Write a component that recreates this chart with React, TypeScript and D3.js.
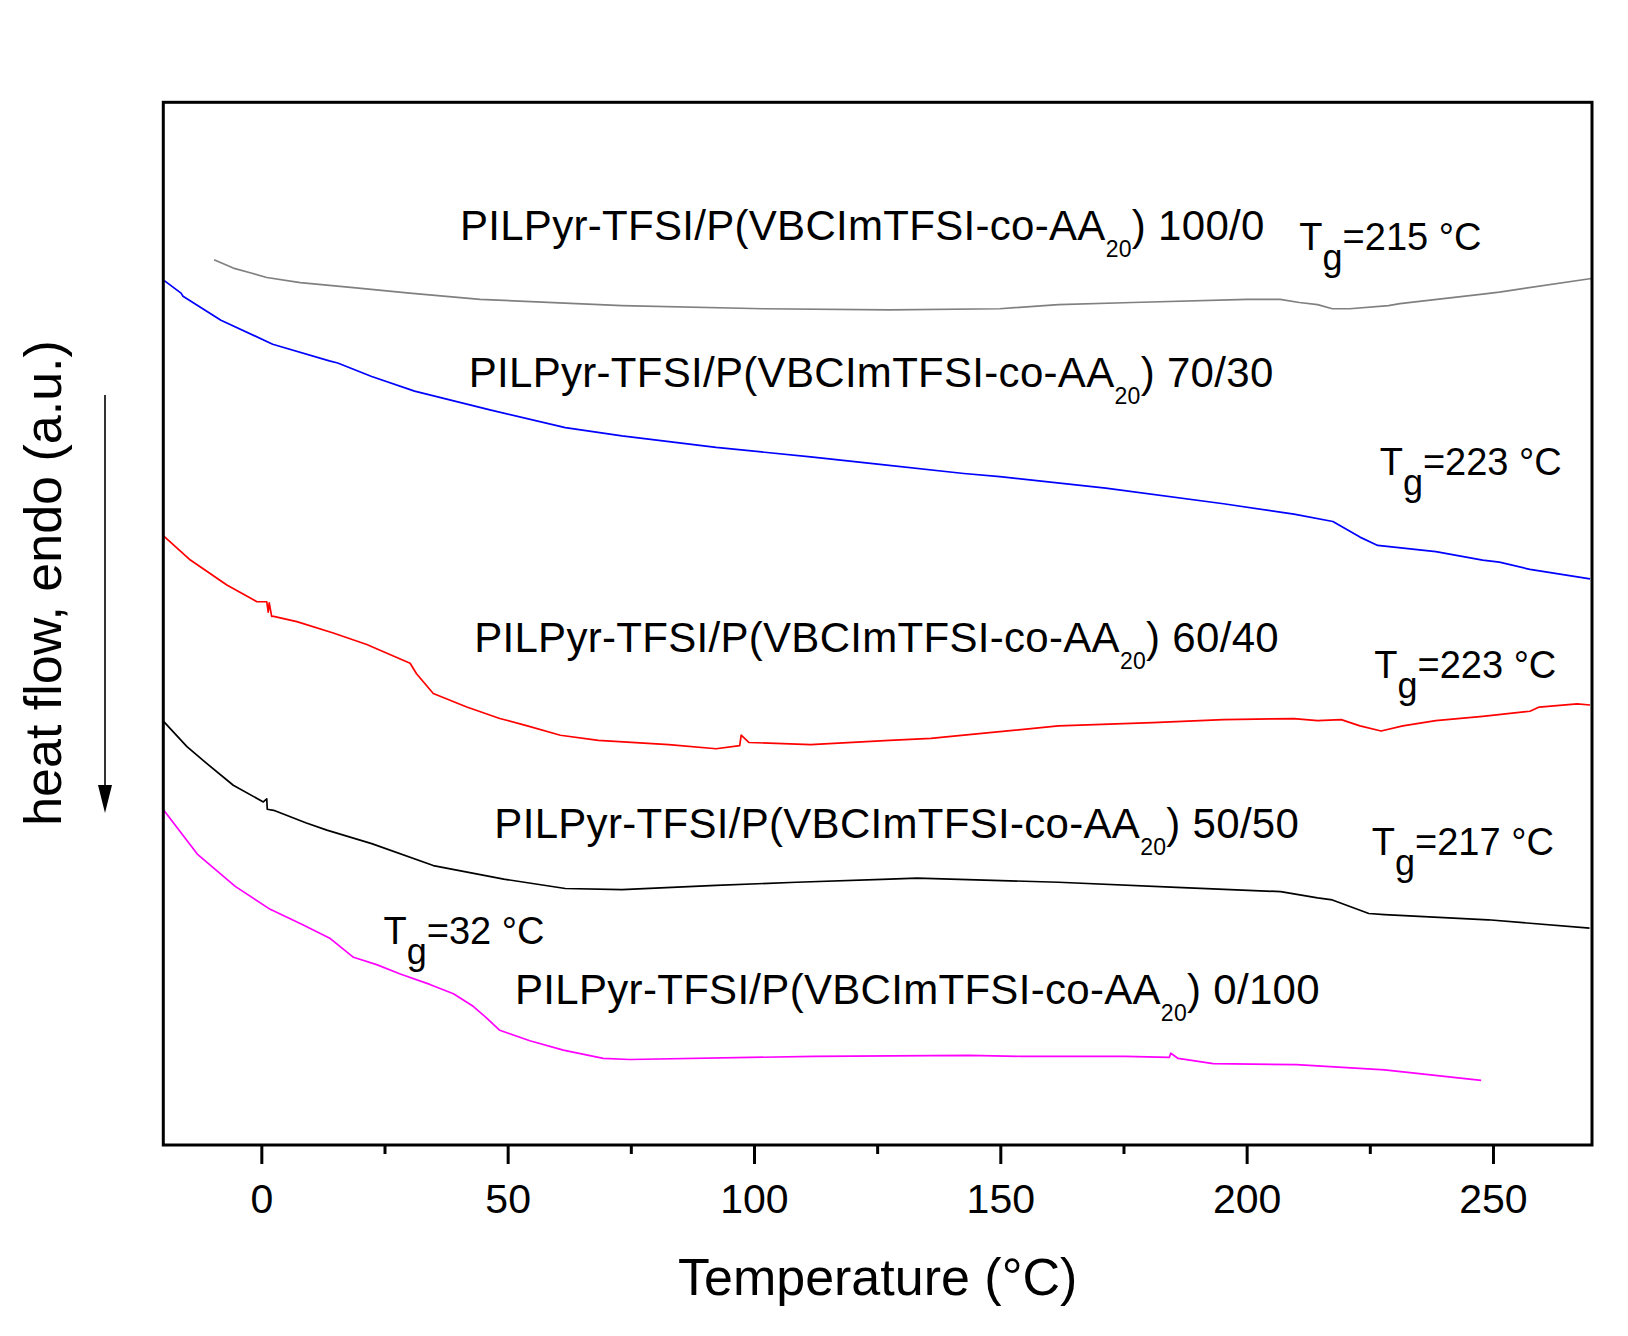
import React, { useEffect, useRef } from 'react';
import * as d3 from 'd3';

// DSC traces, heat flow in a.u. (offset per sample), temperature in °C
const trace100_0: [number, number][] = [
  [-9.7, 84.9], [-5.8, 84.1], [-2.0, 83.6], [1.0, 83.2], [7.8, 82.7], [19.1, 82.2], [30.0, 81.7],
  [44.3, 81.1], [73.1, 80.5], [101.8, 80.2], [127.4, 80.1], [149.8, 80.2], [161.7, 80.6],
  [176.7, 80.8], [200.0, 81.1], [206.7, 81.1], [210.6, 80.8], [214.3, 80.6], [217.3, 80.2],
  [220.8, 80.2], [228.7, 80.5], [231.0, 80.7], [247.8, 81.6], [251.2, 81.8], [269.9, 83.1],
];

const trace70_30: [number, number][] = [
  [-19.8, 82.9], [-16.4, 81.7], [-16.0, 81.4], [-8.3, 79.1], [2.2, 76.8], [13.7, 75.2],
  [15.4, 75.0], [22.3, 73.7], [31.0, 72.3], [46.3, 70.5], [61.6, 68.8], [73.1, 68.0],
  [92.2, 66.9], [111.4, 66.0], [125.0, 65.3], [142.5, 64.4], [149.8, 64.1], [171.3, 63.0],
  [195.2, 61.5], [209.5, 60.5], [217.4, 59.8], [222.9, 58.3], [226.5, 57.5], [238.3, 56.9],
  [247.8, 56.1], [251.2, 55.9], [257.4, 55.2], [269.6, 54.3],
];

const trace60_40: [number, number][] = [
  [-19.9, 58.4], [-14.5, 56.1], [-7.1, 53.7], [-1.7, 52.3], [-1.0, 52.1], [1.0, 52.1],
  [1.3, 51.1], [1.5, 52.0], [2.0, 50.7], [2.4, 50.7], [7.1, 50.2], [14.5, 49.1],
  [21.3, 48.0], [30.1, 46.2], [31.4, 45.2], [34.8, 43.3], [41.6, 42.0], [48.3, 40.9],
  [53.9, 40.2], [60.6, 39.3], [68.3, 38.8], [82.6, 38.4], [92.2, 38.0], [97.0, 38.3],
  [97.3, 39.3], [98.9, 38.6], [111.4, 38.4], [127.4, 38.8], [135.8, 39.0], [142.5, 39.3],
  [161.7, 40.2], [180.8, 40.5], [195.2, 40.8], [209.5, 40.9], [214.3, 40.7], [219.1, 40.8],
  [222.9, 40.2], [227.2, 39.7], [231.6, 40.2], [238.3, 40.7], [247.8, 41.1], [257.4, 41.6],
  [259.3, 42.0], [267.0, 42.3], [269.6, 42.2],
];

const trace50_50: [number, number][] = [
  [-19.9, 40.6], [-15.2, 38.2], [-11.2, 36.6], [-5.8, 34.5], [0.3, 32.9], [1.0, 33.2],
  [1.1, 32.2], [2.4, 32.1], [8.9, 30.9], [13.2, 30.2], [22.3, 28.9], [34.8, 26.8],
  [49.1, 25.5], [61.6, 24.6], [73.1, 24.5], [92.2, 24.9], [108.5, 25.2], [127.4, 25.5],
  [133.0, 25.6], [161.7, 25.2], [185.7, 24.7], [206.8, 24.3], [214.3, 23.7], [217.3, 23.5],
  [224.7, 22.2], [227.9, 22.1], [248.9, 21.6], [269.5, 20.8],
];

const trace0_100: [number, number][] = [
  [-19.9, 32.1], [-13.1, 27.9], [-5.4, 24.8], [1.7, 22.6], [8.0, 21.2], [13.9, 19.8],
  [18.6, 18.0], [23.3, 17.3], [28.1, 16.4], [34.1, 15.4], [38.9, 14.5], [42.9, 13.3],
  [45.6, 12.2], [48.3, 11.0], [54.4, 10.0], [61.2, 9.1], [69.3, 8.3], [74.7, 8.2],
  [112.1, 8.5], [143.6, 8.6], [154.2, 8.5], [175.2, 8.5], [184.2, 8.4], [184.5, 8.8],
  [186.0, 8.3], [193.1, 7.8], [210.0, 7.7], [227.9, 7.2], [247.5, 6.2],
];

const ratios = ['100/0', '70/30', '60/40', '50/50', '0/100'];
const traces = [trace100_0, trace70_30, trace60_40, trace50_50, trace0_100];
const colors = ['#808080', '#0000ff', '#ff0000', '#000000', '#ff00ff'];

// where each name and Tg note sits, in data units
const nameAt: [number, number][] = [[40.2, 86.8], [42.0, 72.7], [43.1, 47.3], [47.2, 29.4], [51.4, 13.5]];
const tgValues = [215, 223, 223, 217, 32];
const tgAt: [number, number][] = [[210.6, 85.8], [226.9, 64.3], [225.8, 44.8], [225.3, 27.8], [24.7, 19.3]];

const majorTicks = [0, 50, 100, 150, 200, 250];
const minorTicks = [25, 75, 125, 175, 225];

const W = 1628;
const H = 1336;
const FONT = '"Liberation Sans", Arial, Helvetica, sans-serif';

const DscChart: React.FC = () => {
  const svgRef = useRef<SVGSVGElement>(null);

  useEffect(() => {
    if (!svgRef.current) return;
    const svg = d3.select(svgRef.current);
    svg.selectAll('*').remove();

    const left = 163.3, right = 1592, top = 102.3, bottom = 1145;

    const x = d3.scaleLinear().domain([-20, 270]).range([left, right]);
    const y = d3.scaleLinear().domain([0, 100]).range([bottom, top]);

    const line = d3.line<[number, number]>()
      .x((d) => x(d[0]))
      .y((d) => y(d[1]));

    traces.forEach((data, i) => {
      svg.append('path')
        .datum(data)
        .attr('d', line)
        .attr('fill', 'none')
        .attr('stroke', colors[i])
        .attr('stroke-width', 1.7)
        .attr('stroke-linejoin', 'round');
    });

    // ticks
    majorTicks.forEach((t) => {
      svg.append('line')
        .attr('x1', x(t)).attr('x2', x(t))
        .attr('y1', bottom).attr('y2', bottom + 19)
        .attr('stroke', '#000').attr('stroke-width', 3);
      svg.append('text')
        .attr('x', x(t)).attr('y', 1213)
        .attr('text-anchor', 'middle')
        .attr('font-family', FONT)
        .attr('font-size', 41)
        .text(t);
    });
    minorTicks.forEach((t) => {
      svg.append('line')
        .attr('x1', x(t)).attr('x2', x(t))
        .attr('y1', bottom).attr('y2', bottom + 9)
        .attr('stroke', '#000').attr('stroke-width', 3);
    });

    // frame
    svg.append('rect')
      .attr('x', left).attr('y', top)
      .attr('width', right - left).attr('height', bottom - top)
      .attr('fill', 'none')
      .attr('stroke', '#000')
      .attr('stroke-width', 3);

    // sample names
    ratios.forEach((r, i) => {
      const t = svg.append('text')
        .attr('x', x(nameAt[i][0])).attr('y', y(nameAt[i][1]))
        .attr('font-family', FONT)
        .attr('font-size', 42)
        .attr('letter-spacing', 0.3)
        .attr('fill', '#000');
      t.append('tspan').text('PILPyr-TFSI/P(VBCImTFSI-co-AA');
      t.append('tspan').attr('font-size', 23).attr('dy', 17).text('20');
      t.append('tspan').attr('dy', -17).text(') ' + r);
    });

    // Tg notes
    tgValues.forEach((v, i) => {
      const t = svg.append('text')
        .attr('x', x(tgAt[i][0])).attr('y', y(tgAt[i][1]))
        .attr('font-family', FONT)
        .attr('font-size', 38)
        .attr('fill', '#000');
      t.append('tspan').text('T');
      t.append('tspan').attr('font-size', 36).attr('dy', 20).text('g');
      t.append('tspan').attr('dy', -20).text(`=${v} °C`);
    });

    // axis titles
    svg.append('text')
      .attr('x', (left + right) / 2).attr('y', 1295)
      .attr('text-anchor', 'middle')
      .attr('font-family', FONT)
      .attr('font-size', 52)
      .text('Temperature (°C)');

    svg.append('text')
      .attr('transform', 'translate(61,583) rotate(-90)')
      .attr('text-anchor', 'middle')
      .attr('font-family', FONT)
      .attr('font-size', 52)
      .text('heat flow, endo (a.u.)');

    // endo arrow
    svg.append('line')
      .attr('x1', 105).attr('x2', 105)
      .attr('y1', 395).attr('y2', 788)
      .attr('stroke', '#000').attr('stroke-width', 1.6);
    svg.append('path')
      .attr('d', 'M98,785 L112,785 L105,813 Z')
      .attr('fill', '#000');
  }, []);

  return (
    <svg
      ref={svgRef}
      width={W}
      height={H}
      style={{ position: 'absolute', left: 0, top: 0, background: '#fff', display: 'block' }}
    />
  );
};

export default function App() {
  return <DscChart />;
}
